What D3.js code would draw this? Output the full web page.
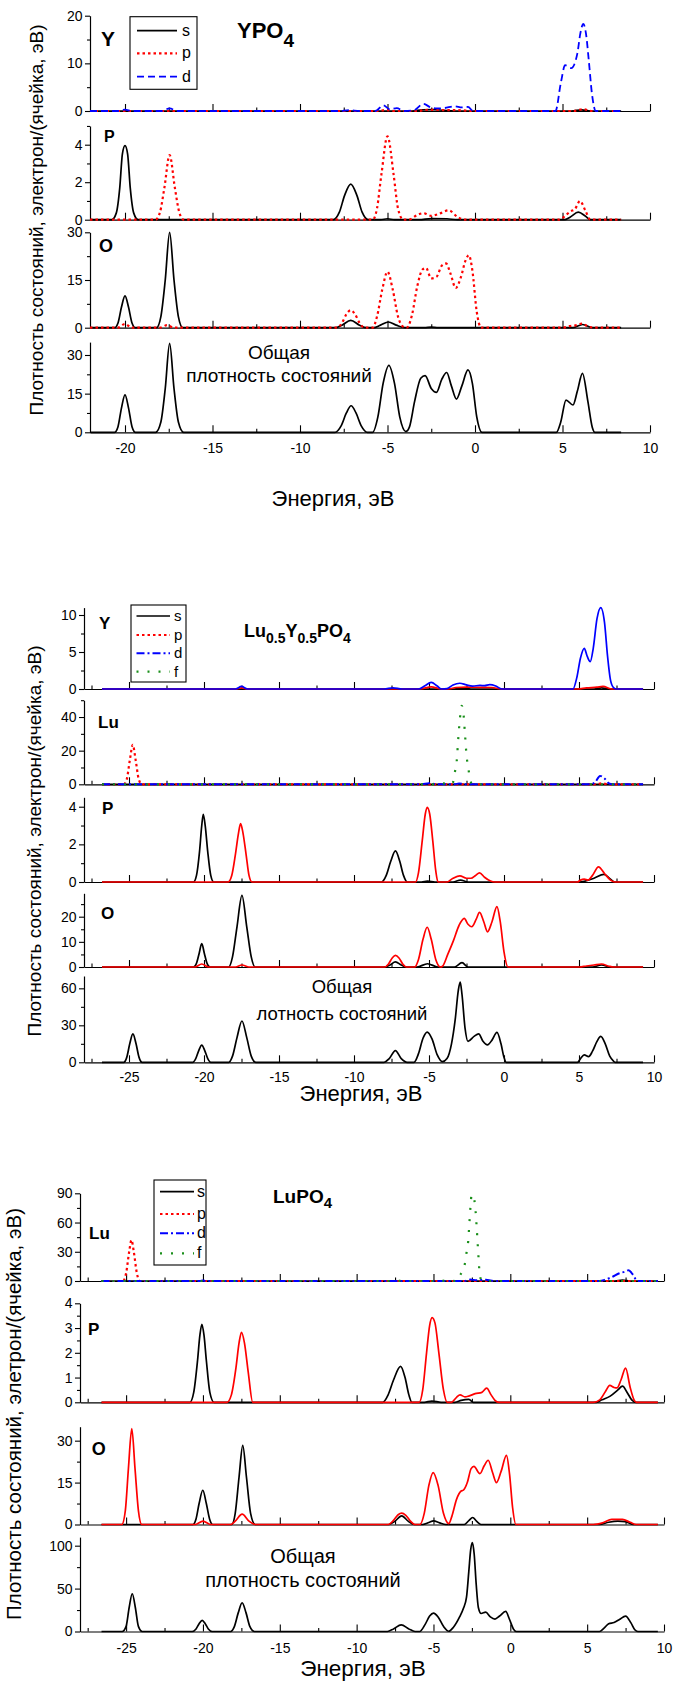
<!DOCTYPE html>
<html><head><meta charset="utf-8">
<script src="https://cdn.jsdelivr.net/npm/d3@7"></script>
<style>body{margin:0;background:#fff}</style>
</head><body>
<svg id="c" width="677" height="1686"></svg>
<script>
// ================= DATA =================
// tick values
const xMajor1 = [-20,-15,-10,-5,0,5,10];
const xMinor1 = [-17.5,-12.5,-7.5,-2.5,2.5,7.5];
const xMajor23 = [-25,-20,-15,-10,-5,0,5,10];
const xMinor23 = [-27.5,-22.5,-17.5,-12.5,-7.5,-2.5,2.5,7.5];

// ---- Figure 1: YPO4 ----
const ypo4_Y_s = [[-22,0],[-3.6,0],[-3.0,0.25],[-2.4,0.3],[-1.8,0.15],[-1.2,0],[5.5,0],[6.1,0.25],[6.6,0],[8.35,0]];
const ypo4_Y_p = [[-22,0],[-5.6,0],[-5.1,0.2],[-4.6,0],[-3.3,0],[-2.7,0.25],[-1.8,0.2],[-0.8,0.15],[-0.2,0],[5.6,0],[6.2,0.35],[6.7,0],[8.35,0]];
const ypo4_Y_d = [[-22,0],[-20.4,0],[-20.0,0.3],[-19.6,0],[-17.9,0],[-17.45,0.55],[-17.0,0],[-7.8,0],[-7.2,0.2],[-6.6,0],[-5.7,0],[-5.24,1.2],[-4.85,0.35],[-4.47,0.6],[-4.05,0],[-3.5,0.15],[-2.95,1.5],[-2.55,0.8],[-2.2,0.55],[-1.8,0.6],[-1.15,1.0],[-0.75,0.75],[-0.4,0.85],[-0.1,0],[4.6,0],[4.9,5.8],[5.15,9.6],[5.5,9.0],[5.85,12.1],[6.02,16.3],[6.19,18.3],[6.34,16.3],[6.5,10.7],[6.68,3.7],[6.9,0],[8.35,0]];
const ypo4_P_s = [[-22,0],[-20.75,0],[-20.5,0.35],[-20.3,1.7],[-20.15,3.5],[-20.0,3.95],[-19.85,3.5],[-19.7,1.7],[-19.5,0.35],[-19.25,0],[-8.1,0],[-7.75,0.4],[-7.45,1.3],[-7.1,1.9],[-6.75,1.3],[-6.45,0.4],[-6.1,0],[-5.4,0],[-5.0,0.05],[-4.6,0],[-3.2,0],[-2.5,0.06],[-1.6,0.05],[-1.0,0],[5.1,0],[5.45,0.15],[5.9,0.4],[6.3,0.2],[6.6,0],[8.35,0]];
const ypo4_P_p = [[-22,0],[-18.25,0],[-18.0,0.4],[-17.75,1.7],[-17.45,3.45],[-17.15,1.7],[-16.9,0.4],[-16.65,0],[-5.85,0],[-5.6,0.6],[-5.35,2.4],[-5.0,4.45],[-4.65,2.4],[-4.4,0.6],[-4.1,0],[-3.8,0],[-3.3,0.25],[-2.95,0.35],[-2.5,0.2],[-2.1,0.3],[-1.5,0.5],[-1.0,0.15],[-0.6,0],[4.8,0],[5.15,0.2],[5.45,0.45],[5.7,0.55],[6.0,1.0],[6.3,0.5],[6.6,0],[8.35,0]];
const ypo4_O_s = [[-22,0],[-20.6,0],[-20.4,1.5],[-20.2,6.5],[-20.0,10],[-19.8,6.5],[-19.6,1.5],[-19.4,0],[-18.2,0],[-17.95,3.5],[-17.7,15],[-17.45,30],[-17.2,15],[-16.95,3.5],[-16.7,0],[-8.0,0],[-7.6,0.8],[-7.1,2.3],[-6.6,0.8],[-6.2,0],[-5.8,0],[-5.4,0.8],[-4.95,1.8],[-4.5,0.8],[-4.0,0],[-2.9,0],[-2.5,0.2],[-2.1,0],[5.6,0],[6.15,1.0],[6.7,0],[8.35,0]];
const ypo4_O_p = [[-22,0],[-20.4,0],[-20.0,1.2],[-19.6,0],[-18.0,0],[-17.6,0.8],[-17.2,0],[-7.9,0],[-7.6,1.5],[-7.35,4.2],[-7.1,5.5],[-6.85,4.2],[-6.6,1.5],[-6.3,0],[-5.85,0],[-5.6,3.5],[-5.3,12],[-5.0,17.6],[-4.7,12],[-4.4,3.5],[-4.1,0.3],[-3.9,0],[-3.6,4],[-3.3,13],[-3.0,18.3],[-2.8,18.8],[-2.5,15.5],[-2.2,16],[-1.9,19.5],[-1.65,20.2],[-1.4,17],[-1.1,12.5],[-0.8,16],[-0.55,21],[-0.35,22.8],[-0.15,18],[0.1,5],[0.35,0],[5.0,0],[5.4,0.5],[5.8,0.8],[6.1,1.3],[6.5,0.3],[6.8,0],[8.35,0]];
const ypo4_T = [[-22,0],[-20.6,0],[-20.4,2.2],[-20.2,9.5],[-20.0,14.5],[-19.8,9.5],[-19.6,2.2],[-19.4,0],[-18.25,0],[-17.95,4],[-17.7,17],[-17.45,34.5],[-17.2,17],[-16.95,4],[-16.65,0],[-8.0,0],[-7.65,2.5],[-7.35,7.5],[-7.08,10.3],[-6.8,7.5],[-6.5,2.5],[-6.15,0],[-5.85,0],[-5.55,6],[-5.25,19],[-4.92,26],[-4.6,19],[-4.3,6],[-3.95,0.3],[-3.75,2],[-3.45,12],[-3.1,21],[-2.85,22],[-2.5,17],[-2.2,15.5],[-1.9,20.5],[-1.62,23.2],[-1.35,18],[-1.06,12.9],[-0.75,18],[-0.4,24.2],[-0.15,19],[0.1,6],[0.4,0],[4.65,0],[4.9,4],[5.2,12.5],[5.6,10.6],[5.85,16],[6.14,22.9],[6.45,12],[6.7,2],[6.85,0],[8.35,0]];

// ---- Figure 2: Lu0.5Y0.5PO4 ----
const luy_Y_s = [[-26.8,0],[-3.3,0],[-2.8,0.1],[-2.2,0],[6.0,0],[6.5,0.15],[7.0,0],[9.27,0]];
const luy_Y_p = [[-26.8,0],[-17.9,0],[-17.5,0.15],[-17.1,0],[-5.6,0],[-4.85,0.3],[-4.2,0],[-3.7,0],[-3.2,0.2],[-2.5,0.25],[-1.6,0.22],[-0.8,0.2],[-0.2,0],[4.9,0],[5.5,0.15],[6.2,0.25],[6.6,0.35],[7.2,0],[9.27,0]];
const luy_Y_d = [[-26.8,0],[-17.9,0],[-17.5,0.35],[-17.1,0],[-8.0,0],[-7.4,0.15],[-6.8,0],[-5.7,0],[-5.3,0.4],[-4.85,0.9],[-4.45,0.4],[-4.15,0],[-3.8,0.05],[-3.4,0.55],[-2.95,0.78],[-2.5,0.55],[-2.1,0.4],[-1.6,0.48],[-1.3,0.45],[-0.95,0.58],[-0.55,0.4],[-0.15,0],[4.6,0],[4.85,1.5],[5.1,4.2],[5.35,5.5],[5.55,4.4],[5.75,3.7],[5.95,5.5],[6.2,9.5],[6.45,11],[6.7,9],[6.9,4.5],[7.1,1.2],[7.3,0.2],[7.5,0],[9.27,0]];
const luy_Lu_s = [[-26.8,0],[9.27,0]];
const luy_Lu_p = [[-26.8,0],[-25.35,0],[-25.15,3],[-24.95,14],[-24.75,23.5],[-24.55,14],[-24.35,3],[-24.15,0],[6.0,0],[6.5,0.5],[7.0,0],[9.27,0]];
const luy_Lu_d = [[-26.8,0],[-5.5,0],[-5.0,0.6],[-4.5,0],[-3.3,0],[-3.0,0.5],[-2.5,0],[5.8,0],[6.1,1.5],[6.4,5.0],[6.7,3.5],[7.0,0.5],[7.2,0],[9.27,0]];
const luy_Lu_f = [[-26.8,0],[-4.6,0],[-4.2,0.6],[-3.8,0.3],[-3.45,0],[-3.27,7.5],[-3.15,14],[-3.05,27],[-2.93,40],[-2.82,46.7],[-2.71,42.8],[-2.6,29.7],[-2.49,16.4],[-2.38,9.9],[-2.27,3.1],[-2.1,0],[9.27,0]];
const luy_P_s = [[-26.8,0],[-20.7,0],[-20.5,0.35],[-20.3,1.6],[-20.15,3.0],[-20.05,3.6],[-19.92,3.0],[-19.75,1.6],[-19.55,0.35],[-19.35,0],[-8.17,0],[-7.85,0.35],[-7.55,1.1],[-7.24,1.65],[-6.95,1.1],[-6.7,0.35],[-6.45,0],[-5.5,0],[-5.1,0.05],[-4.6,0],[-3.4,0],[-2.9,0.1],[-2.4,0],[5.0,0],[5.4,0.05],[6.0,0.2],[6.66,0.4],[7.1,0.15],[7.4,0],[9.27,0]];
const luy_P_p = [[-26.8,0],[-18.4,0],[-18.15,0.35],[-17.9,1.5],[-17.7,2.6],[-17.56,3.1],[-17.4,2.6],[-17.2,1.5],[-17.0,0.35],[-16.8,0],[-5.9,0],[-5.7,0.5],[-5.45,2.2],[-5.25,3.6],[-5.12,3.97],[-4.95,3.6],[-4.75,2.2],[-4.55,0.6],[-4.4,0],[-3.8,0],[-3.4,0.2],[-2.94,0.33],[-2.5,0.2],[-2.2,0.2],[-1.9,0.35],[-1.63,0.49],[-1.3,0.25],[-0.9,0.05],[-0.6,0],[4.9,0],[5.1,0.1],[5.35,0.15],[5.6,0.1],[5.9,0.35],[6.3,0.8],[6.7,0.45],[7.1,0.1],[7.4,0],[9.27,0]];
const luy_O_s = [[-26.8,0],[-20.7,0],[-20.5,1.5],[-20.32,5.5],[-20.15,9.3],[-19.98,5.5],[-19.8,1.5],[-19.6,0],[-18.35,0],[-18.1,4],[-17.8,16],[-17.47,28.5],[-17.15,16],[-16.85,4],[-16.6,0],[-8.0,0],[-7.6,0.8],[-7.24,2],[-6.85,0.8],[-6.5,0],[-5.8,0],[-5.1,1.3],[-4.4,0],[-3.3,0],[-2.8,1.7],[-2.4,0],[5.9,0],[6.5,0.8],[7.1,0],[9.27,0]];
const luy_O_p = [[-26.8,0],[-20.6,0],[-20.15,1.2],[-19.7,0],[-17.9,0],[-17.47,0.8],[-17.0,0],[-7.95,0],[-7.7,1.2],[-7.45,3.6],[-7.24,4.6],[-7.0,3.6],[-6.75,1.2],[-6.5,0],[-5.95,0],[-5.7,3],[-5.4,11],[-5.12,15.8],[-4.85,11],[-4.55,3],[-4.24,0],[-4.1,0.3],[-3.75,5],[-3.37,10.5],[-3.0,16.5],[-2.65,19.3],[-2.4,17],[-2.15,16],[-1.85,19],[-1.63,21.7],[-1.35,18],[-1.1,14],[-0.8,18],[-0.47,24],[-0.25,18],[0.0,6],[0.26,0],[5.0,0],[5.5,0.4],[6.0,0.8],[6.5,1.2],[7.0,0.3],[7.3,0],[9.27,0]];
const luy_T = [[-26.8,0],[-25.35,0],[-25.15,4],[-24.95,15],[-24.74,23],[-24.53,15],[-24.33,4],[-24.13,0],[-20.75,0],[-20.55,3],[-20.35,9.5],[-20.15,14],[-19.95,9.5],[-19.75,3],[-19.55,0],[-18.35,0],[-18.1,5],[-17.8,20],[-17.47,33.5],[-17.15,20],[-16.85,5],[-16.55,0],[-8.0,0],[-7.65,3],[-7.24,9.5],[-6.85,3],[-6.45,0],[-6.0,0],[-5.7,7],[-5.4,19.5],[-5.12,24.5],[-4.8,19],[-4.45,6],[-4.1,0.5],[-3.8,3],[-3.5,15],[-3.25,35],[-3.05,58],[-2.92,65],[-2.8,55],[-2.6,28],[-2.4,17],[-2.0,21],[-1.69,23],[-1.4,17],[-1.1,14.1],[-0.8,18],[-0.47,24.2],[-0.2,15],[0.0,4],[0.15,0],[4.9,0],[5.1,3],[5.35,6],[5.64,4.6],[5.9,9],[6.2,17],[6.45,21],[6.75,15],[7.05,5],[7.3,1],[7.4,0],[9.27,0]];

// ---- Figure 3: LuPO4 ----
const lupo4_Lu_s = [[-26.6,0],[6.8,0],[7.3,0.8],[7.8,0],[9.6,0]];
const lupo4_Lu_p = [[-26.6,0],[-25.2,0],[-25.0,8],[-24.8,30],[-24.65,42],[-24.5,30],[-24.3,8],[-24.1,0],[9.6,0]];
const lupo4_Lu_d = [[-26.6,0],[-20.2,0],[-20.0,0.6],[-19.8,0],[-3.0,0],[-2.6,1.5],[-2.2,0.8],[-1.6,1.2],[-1.0,0],[5.8,0],[6.2,1.5],[6.6,4],[7.1,8],[7.45,9.5],[7.7,11],[7.95,7],[8.15,2],[8.3,0],[9.6,0]];
const lupo4_Lu_f = [[-26.6,0],[-7.3,0],[-7.0,0.8],[-6.7,0],[-4.5,0],[-4.1,0.8],[-3.6,0],[-3.45,0],[-3.28,5.4],[-2.96,17.5],[-2.85,29],[-2.74,41],[-2.66,60],[-2.59,76.7],[-2.52,88.3],[-2.43,88],[-2.35,83.9],[-2.26,71.9],[-2.2,58],[-2.13,40],[-2.07,24.6],[-2.01,10],[-1.9,1.5],[-1.75,0],[9.6,0]];
const lupo4_P_s = [[-26.6,0],[-20.85,0],[-20.6,0.4],[-20.35,1.7],[-20.2,2.7],[-20.07,3.15],[-19.93,2.7],[-19.78,1.7],[-19.55,0.4],[-19.28,0],[-8.3,0],[-7.95,0.3],[-7.6,0.9],[-7.14,1.45],[-6.85,1.0],[-6.6,0.3],[-6.4,0],[-5.6,0],[-5.1,0.05],[-4.5,0],[-3.6,0],[-3.2,0.08],[-2.7,0.12],[-2.4,0],[5.6,0],[5.96,0.1],[6.5,0.25],[7.0,0.5],[7.3,0.65],[7.6,0.4],[7.9,0.1],[8.2,0],[9.6,0]];
const lupo4_P_p = [[-26.6,0],[-18.44,0],[-18.15,0.3],[-17.85,1.4],[-17.65,2.4],[-17.49,2.83],[-17.3,2.4],[-17.05,1.2],[-16.76,0],[-5.93,0],[-5.7,0.5],[-5.45,2.0],[-5.25,3.1],[-5.09,3.42],[-4.9,3.2],[-4.65,2.0],[-4.35,0.5],[-4.11,0],[-3.83,0],[-3.5,0.2],[-3.27,0.3],[-2.95,0.22],[-2.71,0.25],[-2.29,0.35],[-1.85,0.4],[-1.54,0.57],[-1.25,0.3],[-1.0,0.08],[-0.75,0],[5.4,0],[5.82,0.1],[6.2,0.45],[6.47,0.68],[6.75,0.6],[6.94,0.58],[7.2,0.9],[7.5,1.38],[7.8,0.6],[8.05,0.1],[8.2,0],[9.6,0]];
const lupo4_O_s = [[-26.6,0],[-20.66,0],[-20.45,2],[-20.25,7.5],[-20.01,12.25],[-19.78,7.5],[-19.57,2],[-19.36,0],[-18.13,0],[-17.9,4],[-17.65,17],[-17.41,28.3],[-17.17,17],[-16.9,4],[-16.6,0],[-7.9,0],[-7.5,1.2],[-7.07,3.1],[-6.65,1.2],[-6.25,0],[-5.7,0],[-5.3,0.7],[-5.0,1.3],[-4.6,0.6],[-4.2,0],[-3.0,0],[-2.7,1.4],[-2.45,2.5],[-2.2,1.2],[-1.9,0],[5.8,0],[6.4,0.8],[7.0,1.2],[7.5,1.0],[8.0,0],[9.6,0]];
const lupo4_O_p = [[-26.6,0],[-25.28,0],[-25.05,5],[-24.85,20],[-24.63,34.3],[-24.42,20],[-24.2,5],[-23.98,0],[-20.5,0],[-20.0,1.2],[-19.5,0],[-18.2,0],[-17.9,1.2],[-17.45,3.7],[-17.0,1.2],[-16.6,0],[-7.94,0],[-7.6,1.5],[-7.3,3.5],[-7.07,4.1],[-6.8,3.3],[-6.5,1.2],[-6.21,0],[-5.88,0],[-5.6,4],[-5.3,14],[-5.02,18.6],[-4.7,14],[-4.35,4],[-4.0,0.3],[-3.8,3],[-3.5,9],[-3.2,12],[-3.05,12.3],[-2.8,15],[-2.55,20],[-2.37,20.8],[-1.98,18.2],[-1.7,21],[-1.44,23],[-1.15,18.5],[-0.9,15],[-0.6,19],[-0.25,24.75],[-0.05,18],[0.15,6],[0.36,0],[5.4,0],[6.0,0.6],[6.6,1.8],[7.3,1.8],[7.8,0.8],[8.2,0],[9.6,0]];
const lupo4_T = [[-26.6,0],[-25.25,0],[-25.0,6],[-24.8,28],[-24.6,44],[-24.4,28],[-24.2,6],[-23.95,0],[-20.7,0],[-20.45,3],[-20.25,9],[-20.05,13],[-19.85,9],[-19.65,3],[-19.4,0],[-18.2,0],[-17.95,6],[-17.7,22],[-17.45,33.5],[-17.2,22],[-16.95,6],[-16.65,0],[-8.0,0],[-7.6,3],[-7.1,7.8],[-6.6,3],[-6.2,0],[-5.9,0],[-5.55,8],[-5.25,18],[-5.0,21.5],[-4.7,17],[-4.35,6],[-4.0,0.3],[-3.7,5],[-3.3,17],[-3.05,27],[-2.85,40],[-2.7,70],[-2.58,95],[-2.47,103.5],[-2.35,90],[-2.22,55],[-2.08,28],[-1.9,21],[-1.6,22.5],[-1.3,17],[-1.0,14.5],[-0.7,18],[-0.3,23.4],[-0.05,14],[0.2,3],[0.4,0],[5.8,0],[6.1,4],[6.4,9],[6.75,10.5],[7.1,14],[7.5,18],[7.85,10],[8.1,2],[8.3,0],[9.6,0]];

// ================= STYLES / LAYOUT =================
const FONT = "'Liberation Sans', Arial, Helvetica, sans-serif";
const STY = {
  s:{c:'#000',w:1.7,da:null},
  p:{c:'#ff0000',w:1.7,da:null},
  d:{c:'#0000ff',w:1.7,da:null},
  pdot:{c:'#ff0000',w:2.2,da:'2.5,3'},
  ddash:{c:'#0000ff',w:1.8,da:'7,4'},
  ddot:{c:'#0000ff',w:2,da:'8,3,2,3'},
  fdot:{c:'#1a8f1a',w:2.2,da:'2,9'}
};

const FIGS = [
 {
  xDomain:[-22,10], xRange:[90,650], xMajor:xMajor1, xMinor:xMinor1, labelPad:11,
  panels:[
   {y0:111, y1:15.7, yMax:20, majors:[0,10,20], minors:[5,15], label:'Y', lx:101, ly:46, ls:21,
    series:[[ypo4_Y_s,'s'],[ypo4_Y_p,'pdot'],[ypo4_Y_d,'ddash']]},
   {y0:219.7, y1:125.95, yMax:5, majors:[0,2,4], minors:[1,3,5], label:'P', lx:104, ly:142, ls:16,
    series:[[ypo4_P_s,'s'],[ypo4_P_p,'pdot']]},
   {y0:327.7, y1:232.3, yMax:30, majors:[0,15,30], minors:[7.5,22.5], label:'O', lx:99, ly:251.5, ls:18,
    series:[[ypo4_O_s,'s'],[ypo4_O_p,'pdot']]},
   {y0:432.3, y1:342.1, yMax:35, majors:[0,15,30], minors:[7.5,22.5],
    series:[[ypo4_T,'s']]}
  ],
  title:{x:237, y:38, size:22, parts:[['YPO',0],['4',1]], sub:19, dy:9},
  legend:{x0:130, x1:197, y0:16.7, y1:89.3, lx0:137, lx1:177, tx:182, size:16,
          items:[['s',30.7,'s'],['p',53.3,'pdot'],['d',76.7,'ddash']]},
  total:{x:279, l1:'Общая', y1:358.5, l2:'плотность состояний', y2:381.5, size:19},
  ytitle:{text:'Плотность состояний, электрон/(ячейка, эВ)', x:36, y:220, size:19},
  xtitle:{text:'Энергия, эВ', x:333, y:506, size:22}
 },
 {
  xDomain:[-28,10], xRange:[84,654], xMajor:xMajor23, xMinor:xMinor23, labelPad:10,
  panels:[
   {y0:689, y1:607.6, yMax:11, majors:[0,5,10], minors:[2.5,7.5], label:'Y', lx:99, ly:629, ls:17,
    series:[[luy_Y_s,'s'],[luy_Y_p,'p'],[luy_Y_d,'d']]},
   {y0:784.3, y1:700.2, yMax:50, majors:[0,20,40], minors:[10,30,50], label:'Lu', lx:98, ly:727.5, ls:17,
    series:[[luy_Lu_s,'s'],[luy_Lu_p,'pdot'],[luy_Lu_d,'ddot'],[luy_Lu_f,'fdot']]},
   {y0:882, y1:797.3, yMax:4.5, majors:[0,2,4], minors:[1,3], label:'P', lx:102, ly:814, ls:17,
    series:[[luy_P_s,'s'],[luy_P_p,'p']]},
   {y0:967, y1:893.3, yMax:29.3, majors:[0,10,20], minors:[5,15,25], label:'O', lx:101, ly:919, ls:17,
    series:[[luy_O_s,'s'],[luy_O_p,'p']]},
   {y0:1062.3, y1:976, yMax:70, majors:[0,30,60], minors:[15,45],
    series:[[luy_T,'s']]}
  ],
  title:{x:244, y:637, size:18, parts:[['Lu',0],['0.5',1],['Y',0],['0.5',1],['PO',0],['4',1]], sub:14, dy:6},
  legend:{x0:131, x1:186, y0:605, y1:682, lx0:136.5, lx1:170, tx:174, size:15,
          items:[['s',616,'s'],['p',635,'pdot'],['d',653.3,'ddot'],['f',671.7,'fdot']]},
  total:{x:342, l1:'Общая', y1:993, l2:'лотность состояний', y2:1020, size:18.5},
  ytitle:{text:'Плотность состояний, электрон/(ячейка, эВ)', x:34, y:841, size:19},
  xtitle:{text:'Энергия, эВ', x:361, y:1101, size:22}
 },
 {
  xDomain:[-28,10], xRange:[80,664], xMajor:xMajor23, xMinor:xMinor23, labelPad:12,
  panels:[
   {y0:1281, y1:1193.3, yMax:90, majors:[0,30,60,90], minors:[15,45,75], label:'Lu', lx:89, ly:1239, ls:17,
    series:[[lupo4_Lu_s,'s'],[lupo4_Lu_p,'pdot'],[lupo4_Lu_d,'ddot'],[lupo4_Lu_f,'fdot']]},
   {y0:1402.3, y1:1303.3, yMax:4, majors:[0,1,2,3,4], minors:[0.5,1.5,2.5,3.5], label:'P', lx:88, ly:1335, ls:17,
    series:[[lupo4_P_s,'s'],[lupo4_P_p,'p']]},
   {y0:1524.5, y1:1426.7, yMax:35, majors:[0,15,30], minors:[7.5,22.5], label:'O', lx:91.7, ly:1455, ls:18,
    series:[[lupo4_O_s,'s'],[lupo4_O_p,'p']]},
   {y0:1631.5, y1:1537.1, yMax:110, majors:[0,50,100], minors:[25,75],
    series:[[lupo4_T,'s']]}
  ],
  title:{x:273, y:1203.3, size:19, parts:[['LuPO',0],['4',1]], sub:15, dy:5},
  legend:{x0:154, x1:206, y0:1180, y1:1265, lx0:160, lx1:194, tx:197, size:16,
          items:[['s',1191.7,'s'],['p',1214,'pdot'],['d',1233.3,'ddot'],['f',1253.3,'fdot']]},
  total:{x:303, l1:'Общая', y1:1563, l2:'плотность состояний', y2:1587, size:20},
  ytitle:{text:'Плотность состояний, элетрон/(ячейка, эВ)', x:13, y:1414, size:20.5},
  xtitle:{text:'Энергия, эВ', x:363, y:1676, size:22.5}
 }
];

// ================= DRAW =================
const svg = d3.select('#c');
svg.append('rect').attr('width',677).attr('height',1686).attr('fill','#fff');

function styleAxis(sel, fs){
  sel.attr('font-family', FONT).attr('font-size', fs);
  sel.selectAll('path.domain').attr('stroke','#000').attr('stroke-width',1.2);
  sel.selectAll('.tick line').attr('stroke','#000').attr('stroke-width',1.1);
  sel.selectAll('.tick text').attr('fill','#000');
}

function applyStyle(path, key){
  const s = STY[key];
  path.attr('fill','none').attr('stroke', s.c).attr('stroke-width', s.w)
      .attr('stroke-linejoin','round');
  if (s.da) path.attr('stroke-dasharray', s.da);
}

FIGS.forEach(fig => {
  const g = svg.append('g');
  const x = d3.scaleLinear().domain(fig.xDomain).range(fig.xRange);
  fig.panels.forEach((p, i) => {
    const y = d3.scaleLinear().domain([0, p.yMax]).range([p.y0, p.y1]);
    const pg = g.append('g');
    const line = d3.line().x(d => x(d[0])).y(d => y(d[1])).curve(d3.curveMonotoneX);
    // x axis (ticks pointing inward / upward)
    const xa = pg.append('g').attr('transform', `translate(0,${p.y0})`)
      .call(d3.axisTop(x).tickValues(fig.xMajor).tickSize(7).tickSizeOuter(0).tickFormat(''));
    styleAxis(xa, 14);
    const xm = pg.append('g').attr('transform', `translate(0,${p.y0})`)
      .call(d3.axisTop(x).tickValues(fig.xMinor).tickSize(3.5).tickSizeOuter(0).tickFormat(''));
    xm.select('path.domain').remove();
    styleAxis(xm, 14);
    // y axis
    const ya = pg.append('g').attr('transform', `translate(${fig.xRange[0]},0)`)
      .call(d3.axisLeft(y).tickValues(p.majors).tickSize(5).tickSizeOuter(0).tickPadding(2.5)
            .tickFormat(d => String(d)));
    styleAxis(ya, 14);
    const ym = pg.append('g').attr('transform', `translate(${fig.xRange[0]},0)`)
      .call(d3.axisLeft(y).tickValues(p.minors).tickSize(3).tickSizeOuter(0).tickFormat(''));
    ym.select('path.domain').remove();
    styleAxis(ym, 14);
    // curves
    p.series.forEach(([data, key]) => {
      applyStyle(pg.append('path').datum(data).attr('d', line), key);
    });
    // panel label
    if (p.label) {
      pg.append('text').attr('x', p.lx).attr('y', p.ly).text(p.label)
        .attr('font-family', FONT).attr('font-weight','bold').attr('font-size', p.ls);
    }
    // x tick labels on last panel
    if (i === fig.panels.length - 1) {
      const xl = pg.append('g').attr('transform', `translate(0,${p.y0})`)
        .call(d3.axisBottom(x).tickValues(fig.xMajor).tickSize(0).tickPadding(fig.labelPad)
              .tickFormat(d => String(d)));
      xl.select('path.domain').remove();
      styleAxis(xl, 14);
    }
  });

  // title with subscripts
  const t = g.append('text').attr('x', fig.title.x).attr('y', fig.title.y)
    .attr('font-family', FONT).attr('font-weight','bold').attr('font-size', fig.title.size);
  let prevSub = 0;
  fig.title.parts.forEach(([txt, sub]) => {
    const ts = t.append('tspan').text(txt);
    if (sub) { ts.attr('font-size', fig.title.sub); }
    const shift = (sub ? fig.title.dy : 0) - (prevSub ? fig.title.dy : 0);
    if (shift) ts.attr('dy', shift);
    prevSub = sub;
  });

  // legend
  const L = fig.legend;
  g.append('rect').attr('x', L.x0).attr('y', L.y0).attr('width', L.x1 - L.x0).attr('height', L.y1 - L.y0)
    .attr('fill','#fff').attr('stroke','#000').attr('stroke-width',1.1);
  L.items.forEach(([name, yy, key]) => {
    applyStyle(g.append('line').attr('x1', L.lx0).attr('x2', L.lx1).attr('y1', yy).attr('y2', yy), key);
    g.append('text').attr('x', L.tx).attr('y', yy).attr('dy','0.32em').text(name)
      .attr('font-family', FONT).attr('font-size', L.size);
  });

  // total-DOS caption
  const T = fig.total;
  g.append('text').attr('x', T.x).attr('y', T.y1).attr('text-anchor','middle').text(T.l1)
    .attr('font-family', FONT).attr('font-size', T.size);
  g.append('text').attr('x', T.x).attr('y', T.y2).attr('text-anchor','middle').text(T.l2)
    .attr('font-family', FONT).attr('font-size', T.size);

  // axis titles
  g.append('text').attr('transform', `translate(${fig.ytitle.x},${fig.ytitle.y}) rotate(-90)`)
    .attr('text-anchor','middle').attr('dominant-baseline','central').text(fig.ytitle.text)
    .attr('font-family', FONT).attr('font-size', fig.ytitle.size);
  g.append('text').attr('x', fig.xtitle.x).attr('y', fig.xtitle.y).attr('text-anchor','middle')
    .text(fig.xtitle.text).attr('font-family', FONT).attr('font-size', fig.xtitle.size);
});
</script>
</body></html>
